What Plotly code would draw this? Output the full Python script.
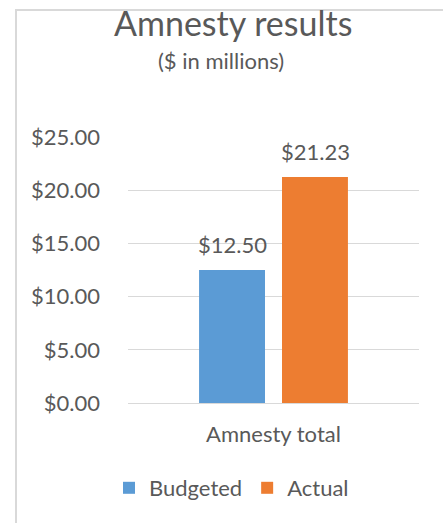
import plotly.graph_objects as go

categories = ["Amnesty total"]
series_names = ["Budgeted", "Actual"]
budgeted = [12.50]
actual = [21.23]
y_ticks = [0, 5, 10, 15, 20, 25]
y_tick_labels = ["$0.00", "$5.00", "$10.00", "$15.00", "$20.00", "$25.00"]

# body margin is removed in the page, so figure pixels == page pixels
OFF = 0
W, H = 443, 523
PW, PH = 291, 266
ML, MT = 128 - OFF, 137 - OFF
MR, MB = W - ML - PW, H - MT - PH

def px_x(p):
    return (p - OFF - ML) / PW

def px_y(p):
    return (MT + PH - (p - OFF)) / PH

FONT = "Lato"
GREY = "#595959"
GRID = "#d9d9d9"
colors = ["#5B9BD5", "#ED7D31"]

fig = go.Figure()
for name, vals, col in zip(series_names, [budgeted, actual], colors):
    fig.add_trace(go.Bar(name=name, x=categories, y=vals, marker_color=col,
                         marker_line_width=0, hoverinfo="skip"))

# data labels
for i, vals in enumerate([budgeted, actual]):
    for c, v in zip(categories, vals):
        fig.add_annotation(x=c, y=v, xref="x", yref="y", text=f"${v:,.2f}",
                           showarrow=False, yanchor="bottom", yshift=10,
                           xshift=(-41.5 if i == 0 else 41.5),
                           font=dict(family=FONT, size=22, color=GREY))

fig.add_annotation(x=px_x(233), y=px_y(0.5), xref="paper", yref="paper",
                   text="Amnesty results", showarrow=False,
                   xanchor="center", yanchor="top", borderpad=0,
                   font=dict(family=FONT, size=34, color=GREY))
fig.add_annotation(x=px_x(221), y=px_y(60), xref="paper", yref="paper",
                   text="($ in millions)", showarrow=False,
                   xanchor="center", yanchor="middle",
                   font=dict(family=FONT, size=22, color=GREY))

# chart border (partially visible)
fig.add_shape(type="rect", xref="paper", yref="paper",
              x0=px_x(16), x1=px_x(470), y0=px_y(560), y1=px_y(10),
              line=dict(color=GRID, width=2), layer="below")

fig.update_layout(
    width=W, height=H,
    margin=dict(l=ML, r=MR, t=MT, b=MB, pad=0),
    paper_bgcolor="white", plot_bgcolor="white",
    barmode="group", bargap=0.43, bargroupgap=0.205,
    showlegend=True,
    legend=dict(orientation="h", x=px_x(109), y=px_y(488),
                xanchor="left", yanchor="middle",
                font=dict(family=FONT, size=22, color=GREY),
                itemwidth=30, traceorder="normal"),
    font=dict(family=FONT, color=GREY),
)
fig.update_yaxes(range=[0, 25], tickvals=y_ticks, ticktext=y_tick_labels,
                 showgrid=True, gridcolor=GRID, gridwidth=1,
                 zeroline=True, zerolinecolor=GRID, zerolinewidth=1,
                 showline=False, ticks="", ticklabelstandoff=27,
                 tickfont=dict(family=FONT, size=22, color=GREY))
fig.update_xaxes(showline=False, ticks="", ticklabelstandoff=16,
                 tickfont=dict(family=FONT, size=22, color=GREY))

fig.write_html("out.html", config={"displayModeBar": False},
               post_script="document.body.style.margin='0';")
